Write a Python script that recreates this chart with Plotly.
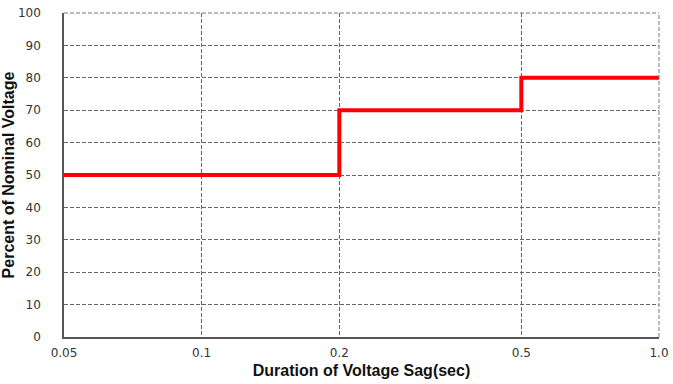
import plotly.graph_objects as go
import math

# Data
durations = [0.05, 0.2, 0.5, 1.0]
percent_nominal = [50, 70, 80, 80]
x_tick_vals = [0.05, 0.1, 0.2, 0.5, 1.0]
x_tick_text = ["0.05", "0.1", "0.2", "0.5", "1.0"]
y_tick_vals = [0, 10, 20, 30, 40, 50, 60, 70, 80, 90, 100]

fig = go.Figure()
fig.add_trace(go.Scatter(
    x=durations, y=percent_nominal, mode="lines",
    line=dict(color="#ff0000", width=4, shape="hv"),
    showlegend=False, hoverinfo="skip",
))

grid_dash = "4px,2px"
tick_font = dict(family="DejaVu Sans", size=12, color="#333")
fig.update_layout(
    width=673, height=384,
    margin=dict(l=64, r=14, t=13, b=47),
    paper_bgcolor="white", plot_bgcolor="white",
    font=dict(family="Liberation Sans, Arial", color="#333"),
    xaxis=dict(
        type="log", range=[math.log10(0.05), 0], automargin=False,
        tickvals=x_tick_vals, ticktext=x_tick_text,
        tickfont=tick_font,
        showgrid=True, gridcolor="#666", griddash=grid_dash, gridwidth=1,
        showline=True, linecolor="#555", linewidth=1.5,
        ticks="", zeroline=False, ticklabelstandoff=4,
        title=dict(text="<b>Duration of Voltage Sag(sec)</b>", font=dict(size=16, color="#111"), standoff=6),
    ),
    yaxis=dict(
        range=[0, 100], tickvals=y_tick_vals, automargin=False,
        tickfont=tick_font,
        showgrid=True, gridcolor="#666", griddash=grid_dash, gridwidth=1,
        showline=True, linecolor="#555", linewidth=1.5,
        ticks="", zeroline=False, ticklabelstandoff=19,
        title=dict(text="<b>Percent of Nominal Voltage</b>", font=dict(size=16, color="#111"), standoff=6),
    ),
)

# dashed top and right border
fig.add_shape(type="line", xref="paper", yref="paper", x0=0, x1=1, y0=1, y1=1,
              line=dict(color="#777", width=1, dash=grid_dash))
fig.add_shape(type="line", xref="paper", yref="paper", x0=1, x1=1, y0=0, y1=1,
              line=dict(color="#777", width=1, dash=grid_dash))

fig.write_html("out.html", config={"displayModeBar": False},
               post_script="document.body.style.margin='0px';document.body.style.overflow='hidden';")
